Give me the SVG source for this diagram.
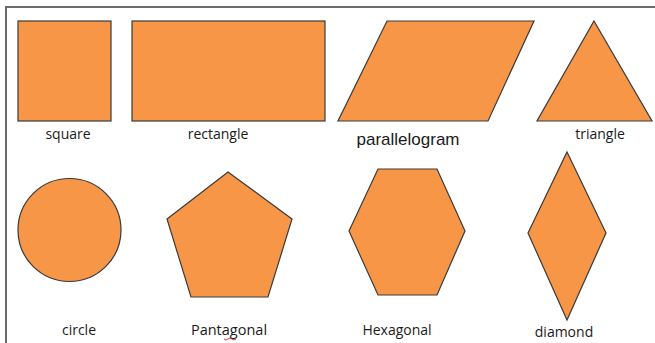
<svg xmlns="http://www.w3.org/2000/svg" width="655" height="343" viewBox="0 0 655 343">
<style>
.s{fill:#F79646;stroke:#3a3a3a;stroke-width:1.2;stroke-linejoin:miter}
.t{font-family:"Open Sans","Liberation Sans",Arial,sans-serif;font-size:14px;fill:#1a1a1a;text-anchor:middle}
.frame{fill:none;stroke:#6a6a6a;stroke-width:2}
</style>
<rect width="655" height="343" fill="#ffffff"/>
<path class="frame" d="M6 343 V7 H655"/>
<g id="square"><rect class="s" x="18" y="21" width="93" height="100"/><text class="t" x="68" y="139">square</text></g>
<g id="rectangle"><rect class="s" x="132" y="21" width="193" height="100"/><text class="t" x="218" y="139">rectangle</text></g>
<g id="parallelogram"><polygon class="s" points="387,21 534,21 488,121 338,121"/><text class="t" x="408" y="145" style="font-family:'Liberation Sans',Arial,sans-serif;font-size:17px">parallelogram</text></g>
<g id="triangle"><polygon class="s" points="594,21 652,121 537,121"/><text class="t" x="600" y="139">triangle</text></g>
<g id="circle"><circle class="s" cx="69.5" cy="230" r="51.5"/><text class="t" x="79" y="335">circle</text></g>
<g id="pentagon"><polygon class="s" points="228,172 292,219 268,297 191,297 167,219"/><text class="t" x="229" y="335" style="font-size:14.5px">Pantagonal</text><path d="M224 339 q2 2 4 0 t4 0 t4 0" fill="none" stroke="#e02020" stroke-width="0.9"/></g>
<g id="hexagon"><polygon class="s" points="378,169 437,169 465,231 437,295 378,295 349,231"/><text class="t" x="397" y="335">Hexagonal</text></g>
<g id="diamond"><polygon class="s" points="567,152 606,233 567,320 528,233"/><text class="t" x="564" y="337">diamond</text></g>
<g id="connectors"></g>
</svg>
